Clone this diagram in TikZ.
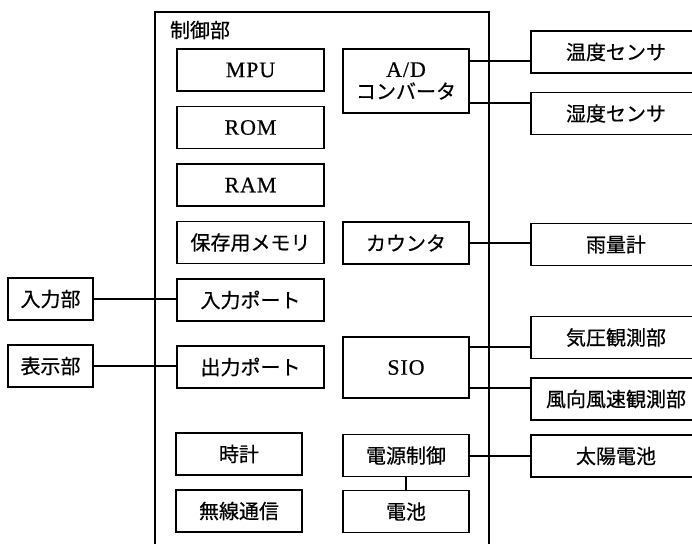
\documentclass[tikz,border=0pt]{standalone}
\usepackage{fontspec}
\setmainfont[FakeBold=0.4,LetterSpace=4]{Liberation Serif}
\newfontfamily\jp[FakeBold=0.6]{Noto Sans CJK JP}
\begin{document}
\begin{tikzpicture}[x=1pt,y=-1pt,
  line width=1.6pt,
  blk/.style={draw, rectangle, inner sep=0pt, align=center, font=\jp\fontsize{20}{24}\selectfont},
  lat/.style={font=\fontsize{22}{26}\selectfont},
  lw/.style={blk, minimum width=147pt, minimum height=42pt},
  mw/.style={blk, minimum width=126pt, minimum height=42pt},
  rw/.style={blk, minimum width=170pt, minimum height=42pt},
  ew/.style={blk, minimum width=85pt, minimum height=42pt}]
\useasboundingbox (0,0) rectangle (692,543);
\clip (0,0) rectangle (692,543);
% control section frame
\draw (155,600) -- (155,12) -- (489,12) -- (489,600);
\node[font=\jp\fontsize{20}{24}\selectfont] (ctl) at (200,30) {制御部};
% left column
\node[lw, lat] (mpu) at (250.5,70) {MPU};
\node[lw, lat] (rom) at (250.5,127.5) {ROM};
\node[lw, lat] (ram) at (250.5,185) {RAM};
\node[lw] (mem) at (250.5,242.5) {保存用メモリ};
\node[lw] (inp) at (250.5,300) {入力ポート};
\node[lw] (outp) at (250.5,367) {出力ポート};
\node[mw] (clk) at (239,454) {時計};
\node[mw] (rf) at (239,511) {無線通信};
% middle column
\node[mw, minimum height=64pt] (ad) at (406,81) {{\rmfamily\fontsize{22}{24}\selectfont A/D}\\[-2pt]コンバータ};
\node[mw] (cnt) at (406,243) {カウンタ};
\node[mw, lat, minimum height=61pt] (sio) at (406,367.5) {SIO};
\node[mw] (pwr) at (406,455.5) {電源制御};
\node[mw] (bat) at (406,511.5) {電池};
% right column
\node[rw] (t1) at (616,52) {温度センサ};
\node[rw] (t2) at (616,113.5) {湿度センサ};
\node[rw] (rain) at (616,244.5) {雨量計};
\node[rw] (pres) at (616,337.5) {気圧観測部};
\node[rw] (wind) at (616,399) {風向風速観測部};
\node[rw] (sol) at (616,456) {太陽電池};
% left external
\node[ew] (in) at (50.5,299) {入力部};
\node[ew] (disp) at (50.5,366) {表示部};
% connectors
\draw (ad.east |- 0,61) -- (t1.west |- 0,61);
\draw (ad.east |- 0,103) -- (t2.west |- 0,103);
\draw (cnt.east) -- (rain.west |- cnt.east);
\draw (sio.east |- 0,347) -- (pres.west |- 0,347);
\draw (sio.east |- 0,388) -- (wind.west |- 0,388);
\draw (pwr.east |- 0,456) -- (sol.west |- 0,456);
\draw (pwr.south) -- (bat.north);
\draw (in.east) -- (inp.west |- in.east);
\draw (disp.east) -- (outp.west |- disp.east);
\end{tikzpicture}
\end{document}
